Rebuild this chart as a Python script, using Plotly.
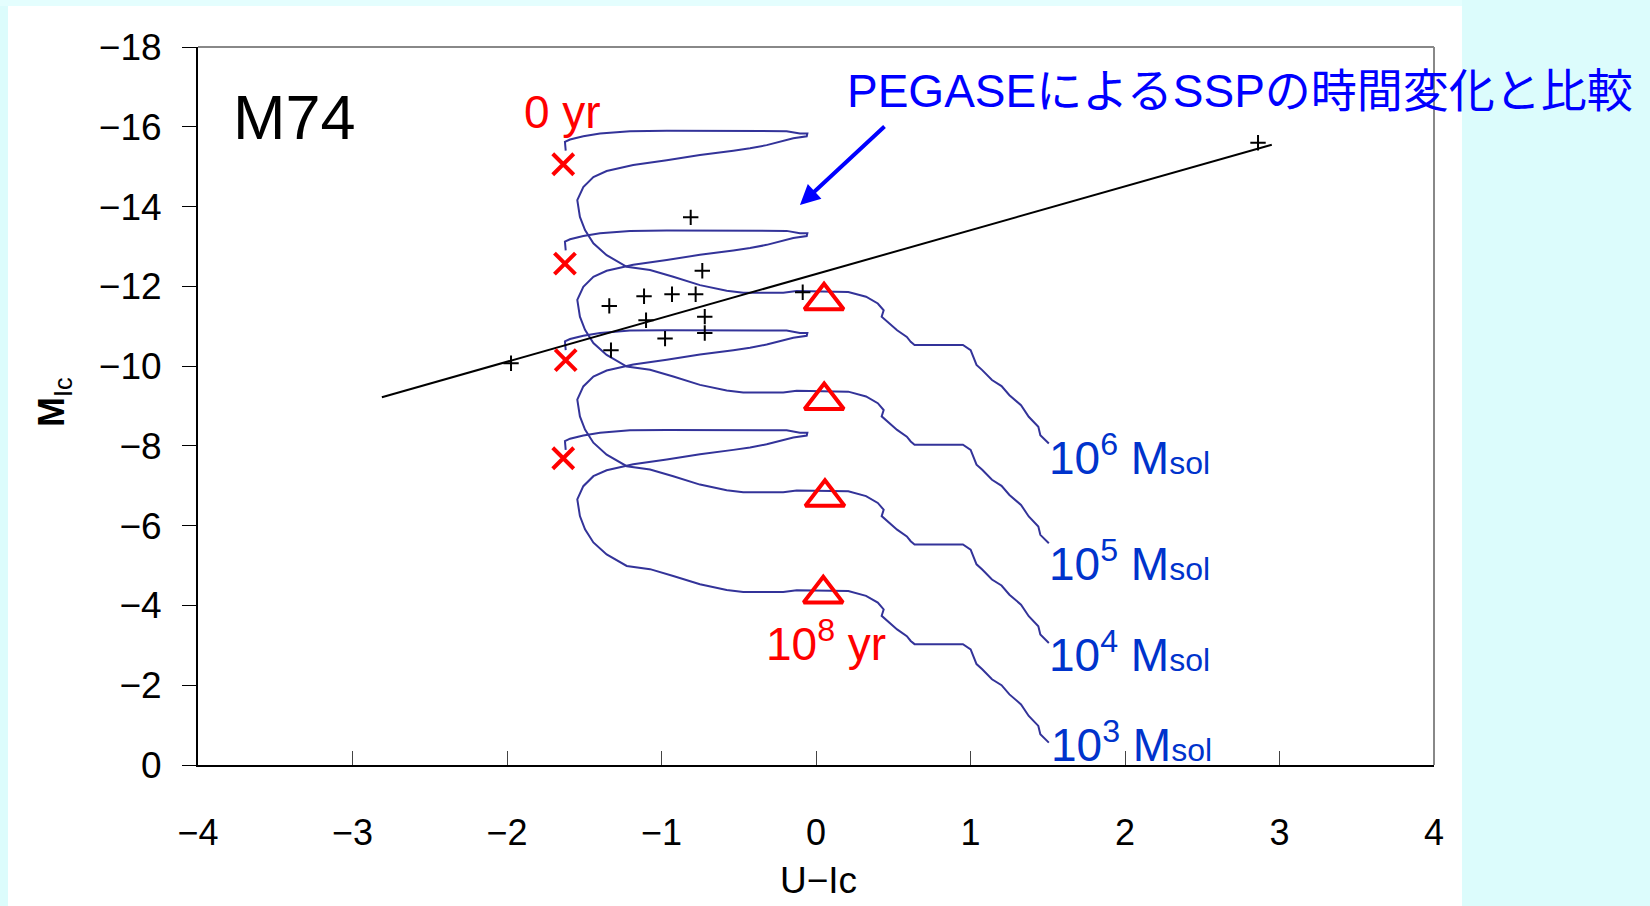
import plotly.graph_objects as go

# ---------------- data ----------------
# PEGASE SSP evolutionary track (0 yr -> 10^8 yr) for a 10^6 Msol cluster
track_u_ic = [-1.620, -1.625, -1.592, -1.506, -1.398, -1.204, -0.966, -0.190, -0.104, -0.056,
              -0.060, -0.147, -0.319, -0.427, -0.535, -0.751, -0.966, -1.183, -1.355, -1.441,
              -1.506, -1.545, -1.528, -1.495, -1.441, -1.355, -1.225, -1.074, -0.924, -0.751,
              -0.578, -0.471, -0.212, -0.125, 0.209, 0.324, 0.400, 0.438, 0.425, 0.487,
              0.525, 0.588, 0.613, 0.638, 0.951, 1.001, 1.039, 1.076, 1.139, 1.201,
              1.252, 1.327, 1.377, 1.439, 1.452, 1.507]
track_m_ic_1e6 = [-15.40, -15.62, -15.68, -15.76, -15.83, -15.89, -15.90, -15.89, -15.83, -15.83,
                  -15.76, -15.71, -15.54, -15.46, -15.40, -15.29, -15.16, -15.04, -14.89, -14.74,
                  -14.49, -14.16, -13.74, -13.41, -13.08, -12.78, -12.49, -12.41, -12.24, -12.03,
                  -11.89, -11.84, -11.84, -11.88, -11.86, -11.74, -11.57, -11.40, -11.24, -11.03,
                  -10.90, -10.73, -10.61, -10.53, -10.53, -10.40, -10.03, -9.90, -9.65, -9.50,
                  -9.27, -9.02, -8.73, -8.48, -8.27, -8.06]
log_masses = [6, 5, 4, 3]
mass_label_u_ic = [1.495, 1.495, 1.495, 1.505]
mass_label_m_ic = [-7.76, -5.12, -2.83, -0.58]

# observed star clusters in M74
obs_u_ic = [-0.811, -0.736, -1.338, -1.113, -0.932, -0.779, -1.100, -0.720, -0.977, -0.720,
            -1.327, -1.974, -0.086, 2.861]
obs_m_ic = [-13.73, -12.39, -11.51, -11.75, -11.80, -11.80, -11.15, -11.24, -10.69, -10.83,
            -10.40, -10.07, -11.85, -15.60]

# linear fit line (end points)
fit_u_ic = [-2.81, 2.95]
fit_m_ic = [-9.22, -15.55]

# 0 yr positions
zero_u_ic = [-1.636, -1.625, -1.620, -1.636]
zero_m_ic = [-15.06, -12.57, -10.15, -7.69]

# 10^8 yr positions
old_u_ic = [0.052, 0.053, 0.058, 0.047]
old_m_ic = [-11.64, -9.14, -6.71, -4.29]

x_ticks = [-4, -3, -2, -1, 0, 1, 2, 3, 4]
y_ticks = [-18, -16, -14, -12, -10, -8, -6, -4, -2, 0]

# ---------------- layout geometry ----------------
W, H = 1650, 906
L, R, T, B = 198, 1434, 47, 765


def px(xp):
    return (xp - L) / (R - L)


def py(yp):
    return (B - yp) / (B - T)


LATIN = "Liberation Sans, Arial, Noto Sans CJK JP, sans-serif"
TRACK_COLOR = "#333399"

fig = go.Figure()

for lm in log_masses:
    shift = 2.5 * (6 - lm)
    fig.add_trace(go.Scatter(
        x=track_u_ic, y=[m + shift for m in track_m_ic_1e6],
        mode="lines", line=dict(color=TRACK_COLOR, width=2),
        hoverinfo="skip", showlegend=False))

fig.add_trace(go.Scatter(x=fit_u_ic, y=fit_m_ic, mode="lines",
                         line=dict(color="black", width=2), showlegend=False))

fig.add_trace(go.Scatter(x=obs_u_ic, y=obs_m_ic, mode="markers",
                         marker=dict(symbol="cross-thin", size=11, color="black",
                                     line=dict(color="black", width=2)),
                         showlegend=False))

fig.add_trace(go.Scatter(x=zero_u_ic, y=zero_m_ic, mode="markers",
                         marker=dict(symbol="x-thin", size=21, color="#ff0000",
                                     line=dict(color="#ff0000", width=4)),
                         showlegend=False))

fig.add_trace(go.Scatter(x=old_u_ic, y=old_m_ic, mode="markers",
                         marker=dict(symbol="triangle-up-open", size=34, color="#ff0000",
                                     line=dict(color="#ff0000", width=4)),
                         showlegend=False))

annotations = []
# mass labels
for lm, xu, ym in zip(log_masses, mass_label_u_ic, mass_label_m_ic):
    annotations.append(dict(
        x=xu, y=ym, xref="x", yref="y", xanchor="left", yanchor="middle",
        text=f"10<sup>{lm}</sup> M<span style='font-size:32px'>sol</span>",
        showarrow=False, font=dict(family=LATIN, size=46, color="#0033cc")))

annotations += [
    dict(x=px(294), y=py(117), xref="paper", yref="paper", text="M74", showarrow=False,
         xanchor="center", yanchor="middle", font=dict(family=LATIN, size=63, color="black")),
    dict(x=px(562), y=py(112), xref="paper", yref="paper", text="0 yr", showarrow=False,
         xanchor="center", yanchor="middle", font=dict(family=LATIN, size=46, color="#ff0000")),
    dict(x=px(826), y=py(641), xref="paper", yref="paper", text="10<sup>8</sup> yr", showarrow=False,
         xanchor="center", yanchor="middle", font=dict(family=LATIN, size=46, color="#ff0000")),
    dict(x=px(845), y=py(91), xref="paper", yref="paper", text="PEGASEによるSSPの時間変化と比較",
         showarrow=False, xanchor="left", yanchor="middle",
         font=dict(family=LATIN, size=46, color="#0000ff")),
    # arrow
    dict(x=-0.104, y=-14.04, xref="x", yref="y", ax=0.453, ay=-16.04, axref="x", ayref="y",
         text="", showarrow=True, arrowhead=2, arrowsize=1, arrowwidth=4, arrowcolor="#0000ff",
         standoff=0, startstandoff=0),
    # axis titles
    dict(x=px(818), y=py(880), xref="paper", yref="paper", text="U−Ic", showarrow=False,
         xanchor="center", yanchor="middle", font=dict(family=LATIN, size=37, color="black")),
    dict(x=px(54), y=py(402), xref="paper", yref="paper", text="<b>M</b><sub>Ic</sub>", showarrow=False,
         textangle=-90, xanchor="center", yanchor="middle",
         font=dict(family=LATIN, size=36, color="black")),
]

shapes = [
    # cyan slide background strips
    dict(type="rect", xref="paper", yref="paper", x0=px(0), x1=px(8), y0=py(906), y1=py(0),
         fillcolor="#dcfcfc", line=dict(width=0), layer="below"),
    dict(type="rect", xref="paper", yref="paper", x0=px(0), x1=px(1462), y0=py(6), y1=py(0),
         fillcolor="#e4fefe", line=dict(width=0), layer="below"),
    dict(type="rect", xref="paper", yref="paper", x0=px(1462), x1=px(1650), y0=py(906), y1=py(0),
         fillcolor="#dcfcfc", line=dict(width=0), layer="below"),
    # gray frame top / right
    dict(type="line", xref="paper", yref="paper", x0=0, x1=1, y0=1, y1=1,
         line=dict(color="#888888", width=2)),
    dict(type="line", xref="paper", yref="paper", x0=1, x1=1, y0=0, y1=1,
         line=dict(color="#888888", width=2)),
]

fig.update_layout(
    width=W, height=H, autosize=False,
    margin=dict(l=L, r=W - R, t=T, b=H - B, pad=0),
    paper_bgcolor="white", plot_bgcolor="white",
    showlegend=False,
    annotations=annotations, shapes=shapes,
    xaxis=dict(range=[-4, 4], tickvals=x_ticks, ticktext=[str(v).replace("-", "−") for v in x_ticks],
               ticks="inside", ticklen=14, tickwidth=1, tickcolor="#444444",
               showline=True, linecolor="black", linewidth=2, showgrid=False, zeroline=False,
               tickfont=dict(family=LATIN, size=36, color="black"), ticklabelstandoff=35),
    yaxis=dict(range=[0, -18], tickvals=y_ticks, ticktext=[str(v).replace("-", "−") for v in y_ticks],
               ticks="outside", ticklen=14, tickwidth=1, tickcolor="black",
               showline=True, linecolor="black", linewidth=2, showgrid=False, zeroline=False,
               tickfont=dict(family=LATIN, size=37, color="black"), ticklabelstandoff=13),
)

fig.write_html("out.html")
